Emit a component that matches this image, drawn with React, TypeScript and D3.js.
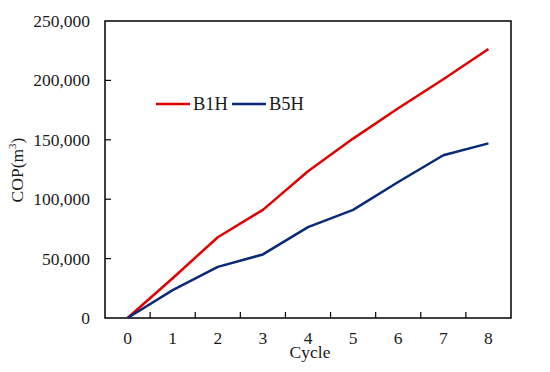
import { useEffect, useRef } from "react";
import * as d3 from "d3";

const cycles = ["0", "1", "2", "3", "4", "5", "6", "7", "8"];
const b1h = [0, 33500, 68000, 91000, 123500, 151000, 176500, 201000, 226500];
const b5h = [0, 23500, 43000, 53500, 76500, 91000, 114500, 137000, 147000];
const yTicks = [0, 50000, 100000, 150000, 200000, 250000];

const seriesList = [
  { name: "B1H", values: b1h, color: "#e00000" },
  { name: "B5H", values: b5h, color: "#0a2a78" },
];

export default function App() {
  const svgRef = useRef<SVGSVGElement>(null);

  useEffect(() => {
    const width = 550;
    const height = 372;
    const left = 105;
    const right = 511;
    const top = 21;
    const bottom = 318;
    const font = "'Liberation Serif', 'Times New Roman', serif";

    const svg = d3.select(svgRef.current);
    svg.selectAll("*").remove();
    svg.attr("width", width).attr("height", height);

    const x = d3.scaleBand().domain(cycles).range([left, right]);
    const y = d3.scaleLinear().domain([0, 250000]).range([bottom, top]);

    // frame
    svg
      .append("rect")
      .attr("x", left)
      .attr("y", top)
      .attr("width", right - left)
      .attr("height", bottom - top)
      .attr("fill", "none")
      .attr("stroke", "#000")
      .attr("stroke-width", 1.5);

    // y ticks (inside)
    svg
      .selectAll("line.yt")
      .data(yTicks.slice(1, -1))
      .enter()
      .append("line")
      .attr("x1", left)
      .attr("x2", left + 6)
      .attr("y1", (d) => y(d))
      .attr("y2", (d) => y(d))
      .attr("stroke", "#000")
      .attr("stroke-width", 1.2);

    svg
      .selectAll("text.yl")
      .data(yTicks)
      .enter()
      .append("text")
      .attr("x", 90)
      .attr("y", (d) => y(d) + 6)
      .attr("text-anchor", "end")
      .attr("font-family", font)
      .attr("font-size", 17.5)
      .attr("fill", "#1a1a1a")
      .text((d) => d3.format(",")(d));

    // x ticks between categories (inside)
    svg
      .selectAll("line.xt")
      .data(cycles.slice(1))
      .enter()
      .append("line")
      .attr("x1", (d) => x(d)!)
      .attr("x2", (d) => x(d)!)
      .attr("y1", bottom)
      .attr("y2", bottom - 6)
      .attr("stroke", "#000")
      .attr("stroke-width", 1.2);

    svg
      .selectAll("text.xl")
      .data(cycles)
      .enter()
      .append("text")
      .attr("x", (d) => x(d)! + x.bandwidth() / 2)
      .attr("y", 344)
      .attr("text-anchor", "middle")
      .attr("font-family", font)
      .attr("font-size", 17.5)
      .attr("fill", "#1a1a1a")
      .text((d) => d);

    // axis titles
    svg
      .append("text")
      .attr("x", 310)
      .attr("y", 358)
      .attr("text-anchor", "middle")
      .attr("font-family", font)
      .attr("font-size", 17.5)
      .attr("fill", "#1a1a1a")
      .text("Cycle");

    const yt = svg
      .append("text")
      .attr("transform", "translate(23,170) rotate(-90)")
      .attr("text-anchor", "middle")
      .attr("font-family", font)
      .attr("font-size", 17.5)
      .attr("fill", "#1a1a1a");
    yt.append("tspan").text("COP(m");
    yt.append("tspan").attr("font-size", 11).attr("dy", -7).text("3");
    yt.append("tspan").attr("dy", 7).text(")");

    // lines
    const line = d3
      .line<number>()
      .x((_, i) => x(cycles[i])! + x.bandwidth() / 2)
      .y((d) => y(d));

    seriesList.forEach((s) => {
      svg
        .append("path")
        .datum(s.values)
        .attr("d", line)
        .attr("fill", "none")
        .attr("stroke", s.color)
        .attr("stroke-width", 2.5)
        .attr("stroke-linejoin", "round");
    });

    // legend
    const legendX = [156, 232];
    seriesList.forEach((s, i) => {
      svg
        .append("line")
        .attr("x1", legendX[i])
        .attr("x2", legendX[i] + 34)
        .attr("y1", 104)
        .attr("y2", 104)
        .attr("stroke", s.color)
        .attr("stroke-width", 2.5);
      svg
        .append("text")
        .attr("x", legendX[i] + 37)
        .attr("y", 110)
        .attr("font-family", font)
        .attr("font-size", 18.5)
        .attr("fill", "#1a1a1a")
        .text(s.name);
    });
  }, []);

  return (
    <svg
      ref={svgRef}
      style={{ position: "absolute", left: 0, top: 0, background: "#fff" }}
    />
  );
}
